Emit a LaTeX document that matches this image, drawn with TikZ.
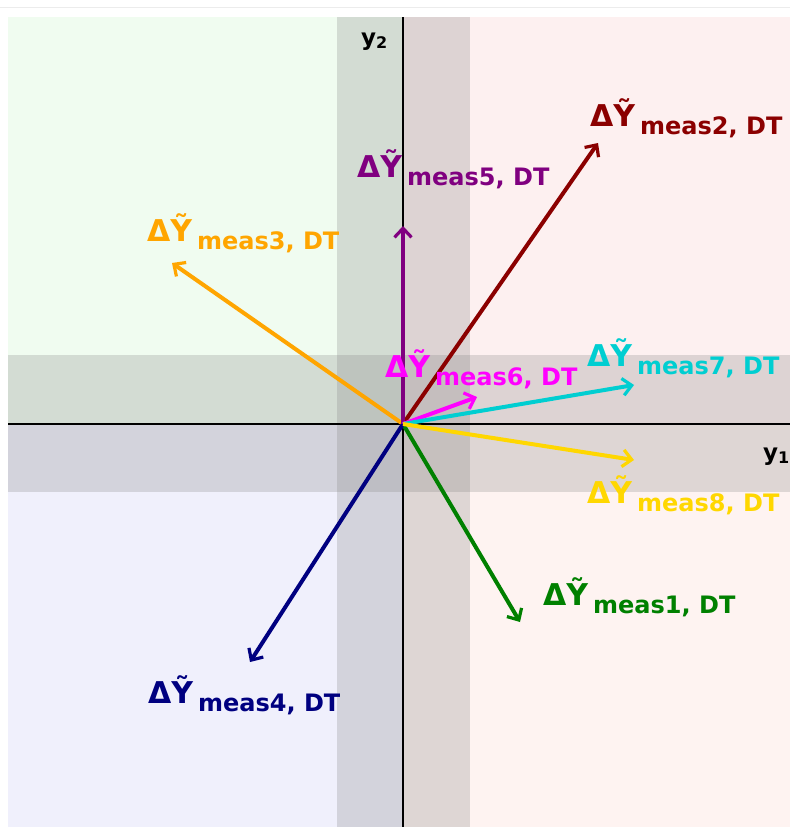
\documentclass[tikz,border=0pt]{standalone}
\usepackage{fontspec}
\setmainfont{DejaVu Sans}
\usetikzlibrary{arrows.meta}
\definecolor{qTL}{RGB}{240,252,240}
\definecolor{qTR}{RGB}{253,240,240}
\definecolor{qBL}{RGB}{240,240,252}
\definecolor{qBR}{RGB}{254,243,241}
\definecolor{cGreen}{RGB}{0,128,0}
\definecolor{cDarkRed}{RGB}{139,0,0}
\definecolor{cOrange}{RGB}{255,165,0}
\definecolor{cNavy}{RGB}{0,0,128}
\definecolor{cPurple}{RGB}{128,0,128}
\definecolor{cMagenta}{RGB}{255,0,255}
\definecolor{cTurq}{RGB}{0,206,209}
\definecolor{cGold}{RGB}{255,215,0}
\newcommand\measlbl[1]{{\fontsize{30}{30}\selectfont ΔỸ}\hspace{5pt}\raisebox{-8pt}{\fontsize{24}{24}\selectfont meas#1, DT}}
\tikzset{
  vec/.style={line width=4pt,-{Straight Barb[length=9pt,width=17pt,line width=3.2pt]}},
  lbl/.style={anchor=base west,inner sep=0pt,font=\bfseries},
  axlbl/.style={anchor=base west,inner sep=0pt,font=\bfseries\fontsize{23}{23}\selectfont},
  band/.style={fill=gray,fill opacity=0.25,draw=none},
  axisline/.style={line width=1.4pt,black}
}
\begin{document}
\begin{tikzpicture}[x=1pt,y=-1pt]
\useasboundingbox (0,0) rectangle (790,827);
\fill[white] (0,0) rectangle (790,827);
\draw[gray!15,line width=1pt] (0,7) -- (790,7);
% quadrants
\fill[qTL] (8,17) rectangle (403,424);
\fill[qTR] (403,17) rectangle (790,424);
\fill[qBL] (8,424) rectangle (403,827);
\fill[qBR] (403,424) rectangle (790,827);
% bands
\fill[band] (337,17) rectangle (470,827);
\fill[band] (8,355) rectangle (790,492);
% axes
\coordinate (O) at (403,424);
\coordinate (axT) at (403,17);
\coordinate (axB) at (403,827);
\coordinate (axL) at (8,424);
\coordinate (axR) at (790,424);
\draw[axisline] (axT) -- (axB);
\draw[axisline] (axL) -- (axR);
\node[axlbl] (y2) at (361,45) {y\raisebox{-3pt}{\fontsize{16}{16}\selectfont 2}};
\node[axlbl] (y1) at (763,460) {y\raisebox{-3pt}{\fontsize{16}{16}\selectfont 1}};
% tips
\coordinate (t1) at (520,622);
\coordinate (t2) at (598,143);
\coordinate (t3) at (172,263);
\coordinate (t4) at (250,662);
\coordinate (t5) at (403,226);
\coordinate (t6) at (477,397);
\coordinate (t7) at (634,385);
\coordinate (t8) at (634,460);
\draw[vec,cGreen] (O) -- (t1);
\draw[vec,cDarkRed] (O) -- (t2);
\draw[vec,cOrange] (O) -- (t3);
\draw[vec,cNavy] (O) -- (t4);
\draw[vec,cPurple] (O) -- (t5);
\draw[vec,cMagenta] (O) -- (t6);
\draw[vec,cTurq] (O) -- (t7);
\draw[vec,cGold] (O) -- (t8);
% labels
\node[lbl,text=cDarkRed] (l2) at (590,126) {\measlbl{2}};
\node[lbl,text=cPurple] (l5) at (357,177) {\measlbl{5}};
\node[lbl,text=cOrange] (l3) at (147,241) {\measlbl{3}};
\node[lbl,text=cMagenta] (l6) at (385,377) {\measlbl{6}};
\node[lbl,text=cTurq] (l7) at (587,366) {\measlbl{7}};
\node[lbl,text=cGold] (l8) at (587,503) {\measlbl{8}};
\node[lbl,text=cGreen] (l1) at (543,605) {\measlbl{1}};
\node[lbl,text=cNavy] (l4) at (148,703) {\measlbl{4}};
\end{tikzpicture}
\end{document}
